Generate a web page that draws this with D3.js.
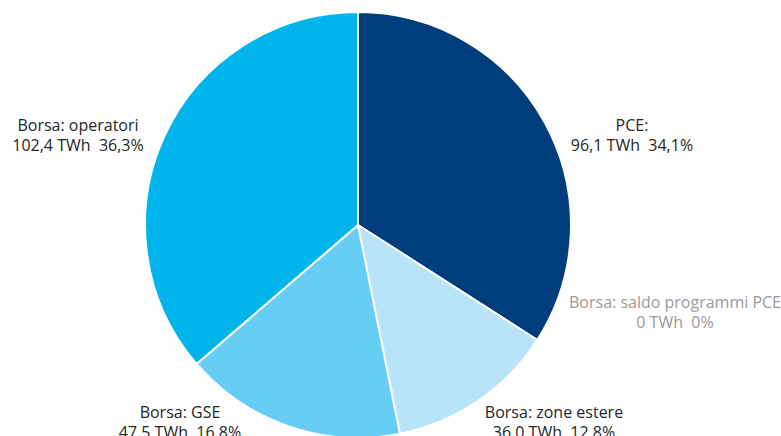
<!DOCTYPE html>
<html>
<head>
<meta charset="utf-8">
<script src="https://cdn.jsdelivr.net/npm/d3@7"></script>
<style>
  body { margin: 0; background: #fff; }
  text { font-family: "Open Sans", sans-serif; font-size: 16px; }
</style>
</head>
<body>
<div class="canvas"></div>
<script>
const categories = ['PCE:', 'Borsa: saldo programmi PCE', 'Borsa: zone estere', 'Borsa: GSE', 'Borsa: operatori']
const valuesTWh = [96.1, 0, 36.0, 47.5, 102.4]
const percents = [34.1, 0, 12.8, 16.8, 36.3]
const colors = ['#003d7c', '#b8e3f8', '#b8e3f8', '#66cdf4', '#00b5ec']
const textColors = ['#262626', '#9a9a9a', '#262626', '#262626', '#262626']

// label centres, picked by eye
const labelPos = [[632, 125], [675, 302], [554, 412], [180, 412], [78, 125]]

const width = 781, height = 436
const cx = 358, cy = 225, radius = 213

const svg = d3.select('.canvas')
    .append('svg')
    .attr('width', width)
    .attr('height', height)

const pie = d3.pie().sort(null).value(d => d)
const arc = d3.arc().innerRadius(0).outerRadius(radius)

const fmt = v => d3.format('.1f')(v).replace('.', ',')

const graph = svg.append('g')
    .attr('transform', `translate(${cx}, ${cy})`)

graph.selectAll('path')
    .data(pie(valuesTWh))
    .enter()
    .append('path')
        .attr('d', arc)
        .attr('fill', (d, i) => colors[i])
        .attr('stroke', '#fff')
        .attr('stroke-width', d => d.value > 0 ? 2 : 0)

const labels = svg.selectAll('text.lbl')
    .data(categories)
    .enter()
    .append('text')
        .attr('class', 'lbl')
        .attr('text-anchor', 'middle')
        .attr('fill', (d, i) => textColors[i])
        .attr('x', (d, i) => labelPos[i][0])
        .attr('y', (d, i) => labelPos[i][1])

labels.append('tspan')
    .attr('x', (d, i) => labelPos[i][0])
    .attr('dy', '0.35em')
    .text(d => d)

labels.append('tspan')
    .attr('x', (d, i) => labelPos[i][0])
    .attr('dy', 20)
    .style('white-space', 'pre')
    .text((d, i) => {
        const v = valuesTWh[i] === 0 ? '0' : fmt(valuesTWh[i])
        const p = percents[i] === 0 ? '0' : fmt(percents[i])
        return `${v} TWh  ${p}%`
    })
</script>
</body>
</html>
